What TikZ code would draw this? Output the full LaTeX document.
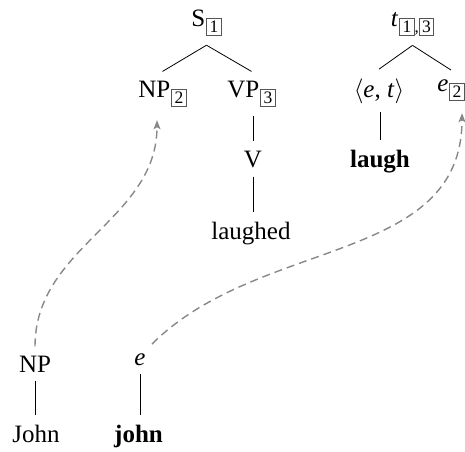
\documentclass[tikz,border=0pt]{standalone}
\usepackage{fontspec}
\setmainfont{Liberation Serif}
\usetikzlibrary{arrows.meta}
\definecolor{boxframe}{HTML}{555555}
\definecolor{arrowgray}{HTML}{888888}
\newcommand\mainsize{\fontsize{25}{30}\selectfont}
\newcommand\bxn[1]{{\setlength\fboxsep{2.3pt}\setlength\fboxrule{1pt}\fcolorbox{boxframe}{white}{\fontsize{17.5}{17.5}\selectfont #1}}}
\newcommand\subbox[1]{\hspace{1pt}\raisebox{-6.7pt}{\fontsize{17}{17}\selectfont #1}}
\begin{document}
\begin{tikzpicture}[x=1pt,y=-1pt,
  lbl/.style={inner xsep=0pt, inner ysep=9pt, anchor=base, font=\mainsize},
  branch/.style={line width=0.8pt, black},
  move/.style={arrowgray, line width=1.4pt, dash pattern=on 8pt off 5pt,
    -{Stealth[length=9pt,width=7pt,inset=2pt]}}]
\useasboundingbox (0,0) rectangle (465,451);
% syntactic tree
\node[lbl] (S) at (206.5,26) {S\subbox{\bxn{1}}};
\node[lbl] (NP2) at (162.5,97) {NP\subbox{\bxn{2}}};
\node[lbl] (VP3) at (251.5,97) {VP\subbox{\bxn{3}}};
\node[lbl] (V) at (253,167) {V};
\node[lbl] (laughed) at (251,239) {laughed};
% semantic tree
\node[lbl] (T) at (412.5,26) {\textit{t}\subbox{\bxn{1},\bxn{3}}};
\node[lbl] (ET) at (379,97) {$\langle$\textit{e}, \textit{t}$\rangle$};
\node[lbl] (E2) at (451,91) {\textit{e}\subbox{\bxn{2}}};
\node[lbl] (laugh) at (380,167) {\textbf{laugh}};
% lexical items
\node[lbl] (NPb) at (35,372) {NP};
\node[lbl] (John) at (36,442) {John};
\node[lbl] (Eb) at (140,365) {\textit{e}};
\node[lbl] (john) at (138.5,442) {\textbf{john}};
% branches
\draw[branch] (S.south) -- (NP2.north);
\draw[branch] (S.south) -- (VP3.north);
\draw[branch] (V.north |- VP3.south) -- (V.north);
\draw[branch] (V.south) -- (V.south |- laughed.north);
\draw[branch] (T.south) -- (ET.north);
\draw[branch] (T.south) -- (E2.north);
\draw[branch] (laugh.north |- ET.south) -- (laugh.north);
\draw[branch] (NPb.south) -- (NPb.south |- John.north);
\draw[branch] (Eb.south) -- (Eb.south |- john.north);
% movement arrows
\draw[move] (NPb.north) .. controls +(0,-100) and +(0,100) .. ([shift={(-5.5,4)}]NP2.south);
\draw[move] ([xshift=12pt]Eb.north) .. controls +(107,-107) and +(0,151) .. ([shift={(11,3)}]E2.south);
\end{tikzpicture}
\end{document}
